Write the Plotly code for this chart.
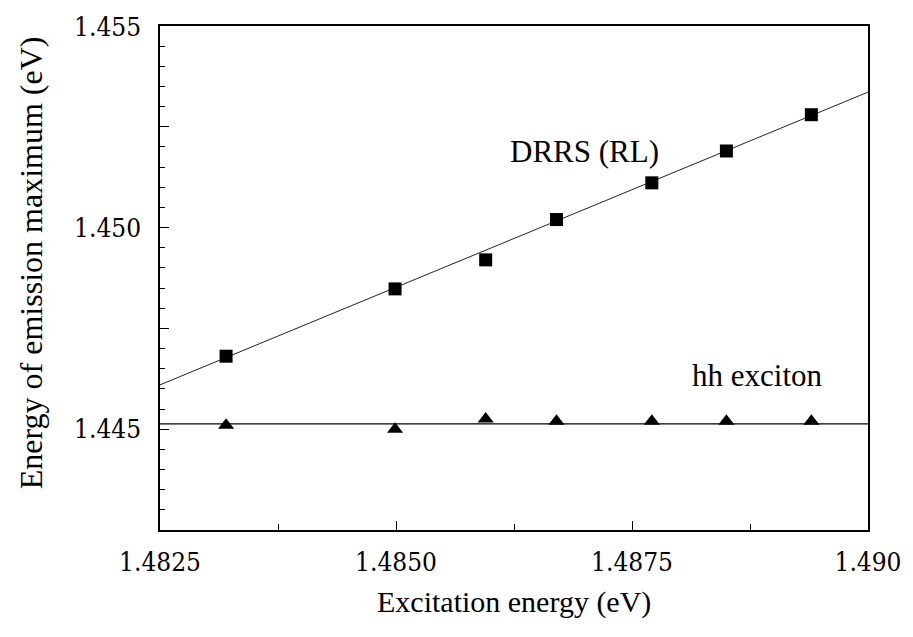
import plotly.graph_objects as go

# Data
excitation = [1.48320, 1.48499, 1.48595, 1.48670, 1.48771, 1.48850, 1.48940]
drrs = [1.44681, 1.44848, 1.44920, 1.45020, 1.45111, 1.45190, 1.45280]
hh = [1.44510, 1.44500, 1.44525, 1.44520, 1.44520, 1.44520, 1.44520]

# fitted lines (end points)
line_x = [1.4825, 1.4900]
drrs_fit = [1.44610, 1.45336]
hh_fit = [1.44513, 1.44513]

x_tickvals = [1.4825, 1.4850, 1.4875, 1.4900]
x_ticktext = ["1.4825", "1.4850", "1.4875", "1.490"]
x_minor = [1.48375, 1.48625, 1.48875]
y_tickvals = [1.445, 1.4475, 1.450, 1.4525, 1.45499]
y_ticktext = ["1.445", "", "1.450", "", "1.455"]

tick_font = "DejaVu Serif Condensed, DejaVu Serif, serif"
label_font = "Liberation Serif, serif"

fig = go.Figure()
fig.add_trace(go.Scatter(x=line_x, y=drrs_fit, mode="lines",
                         line=dict(color="#222222", width=1), showlegend=False))
fig.add_trace(go.Scatter(x=line_x, y=hh_fit, mode="lines",
                         line=dict(color="black", width=1.3), showlegend=False))
fig.add_trace(go.Scatter(x=excitation, y=drrs, mode="markers",
                         marker=dict(symbol="square", size=13, color="black", line=dict(width=0)),
                         showlegend=False))
fig.add_trace(go.Scatter(x=excitation, y=hh, mode="markers",
                         marker=dict(symbol="triangle-up", size=14, color="black", line=dict(width=0)),
                         showlegend=False))

fig.add_annotation(x=1.48619, y=1.45189, text="DRRS (RL)", showarrow=False,
                   xanchor="left", yanchor="middle",
                   font=dict(family=label_font, size=31, color="black"))
fig.add_annotation(x=1.48882, y=1.44632, text="hh exciton", showarrow=False,
                   xanchor="center", yanchor="middle",
                   font=dict(family=label_font, size=31, color="black"))

# axis titles placed as annotations
fig.add_annotation(xref="paper", yref="paper", x=-0.181, y=0.531,
                   text="Energy of emission maximum (eV)", textangle=-90, showarrow=False,
                   xanchor="center", yanchor="middle",
                   font=dict(family=label_font, size=32, color="black"))
fig.add_annotation(xref="paper", yref="paper", x=0.5, y=-0.143,
                   text="Excitation energy (eV)", showarrow=False,
                   xanchor="center", yanchor="middle",
                   font=dict(family=label_font, size=30, color="black"))

axis_common = dict(showline=True, mirror=True, linecolor="black", linewidth=1.5,
                   showgrid=False, zeroline=False, ticks="inside", tickcolor="black",
                   tickwidth=1, ticklabeloverflow="allow",
                   tickfont=dict(family=tick_font, size=26, color="black"))

fig.update_xaxes(range=[1.4825, 1.4900], tickmode="array", tickvals=x_tickvals,
                 ticktext=x_ticktext, ticklen=9, ticklabelstandoff=8,
                 minor=dict(tickmode="array", tickvals=x_minor, ticklen=6, ticks="inside",
                            tickcolor="black", tickwidth=1),
                 **axis_common)
fig.update_yaxes(range=[1.4425, 1.455], tickmode="array", tickvals=y_tickvals,
                 ticktext=y_ticktext, ticklen=9, ticklabelstandoff=12,
                 minor=dict(tick0=1.4425, dtick=0.0005, ticklen=5, ticks="inside",
                            tickcolor="black", tickwidth=1),
                 **axis_common)

fig.update_layout(width=913, height=637, plot_bgcolor="white", paper_bgcolor="white",
                  margin=dict(l=160, r=35, t=12, b=107))

fig.write_html("out.html")
